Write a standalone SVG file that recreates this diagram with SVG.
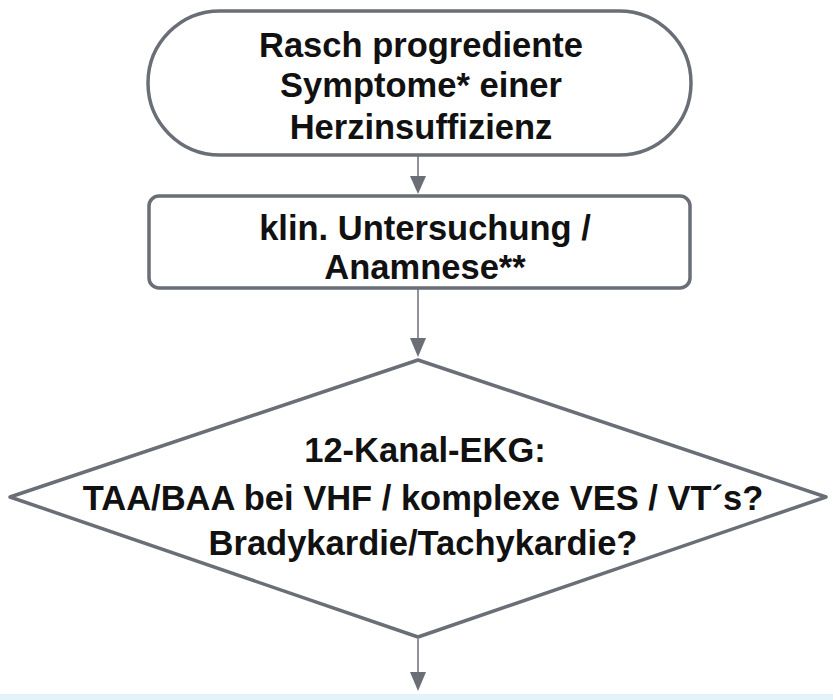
<svg xmlns="http://www.w3.org/2000/svg" width="833" height="700" viewBox="0 0 833 700">
<defs>
<style>
.shape{fill:#fff;stroke:#6a6e76;stroke-width:3.5;stroke-linejoin:round}
.conn{stroke:#6a6e76;stroke-width:1.5;fill:none}
.head{fill:#6a6e76}
.lbl{font-family:"Liberation Sans",Arial,sans-serif;font-weight:bold;font-size:34.5px;fill:#111;text-anchor:middle}
</style>
</defs>
<rect x="0" y="0" width="833" height="700" fill="#fff"/>
<rect x="0" y="694" width="833" height="6" fill="#e4f3f7"/>
<g id="connectors">
<line class="conn" x1="418" y1="156" x2="418" y2="176"/>
<path class="head" d="M410,176 L426,176 L418,194 z"/>
<line class="conn" x1="418" y1="289" x2="418" y2="338"/>
<path class="head" d="M410,338 L426,338 L418,357 z"/>
<line class="conn" x1="418" y1="639" x2="418" y2="672"/>
<path class="head" d="M410,672 L426,672 L418,691 z"/>
</g>
<g id="start">
<rect class="shape" x="148" y="11" width="543" height="144" rx="72" ry="72"/>
<text class="lbl" x="421" y="57">Rasch progrediente</text>
<text class="lbl" x="421" y="97">Symptome* einer</text>
<text class="lbl" x="421" y="139">Herzinsuffizienz</text>
</g>
<g id="exam">
<rect class="shape" x="149" y="196" width="541" height="92" rx="10" ry="10"/>
<text class="lbl" x="425" y="240">klin. Untersuchung /</text>
<text class="lbl" x="425" y="279">Anamnese**</text>
</g>
<g id="ekg">
<path class="shape" d="M418,360 L826,497 L418,637 L10,497 z"/>
<text class="lbl" x="425" y="462">12-Kanal-EKG:</text>
<text class="lbl" x="423" y="510">TAA/BAA bei VHF / komplexe VES / VT´s?</text>
<text class="lbl" x="423" y="555">Bradykardie/Tachykardie?</text>
</g>
</svg>
